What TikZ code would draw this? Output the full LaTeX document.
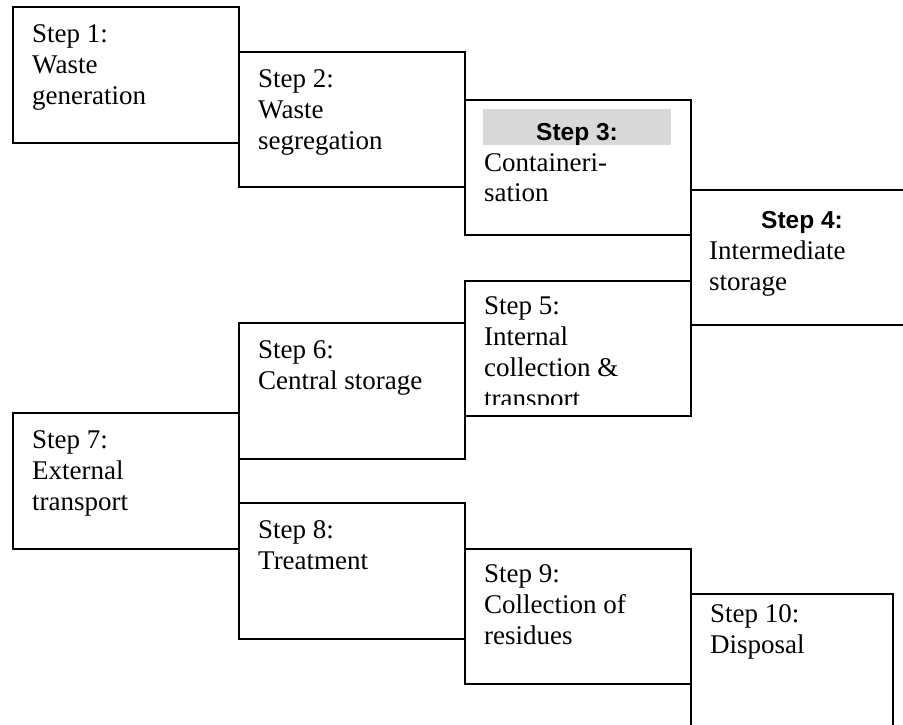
\documentclass[tikz,border=0pt]{standalone}
\usepackage{fontspec}
\setmainfont{Liberation Serif}
\setsansfont{Liberation Sans}
\definecolor{hdgray}{RGB}{217,217,217}
\begin{document}
\begin{tikzpicture}[x=1pt,y=-1pt,
  stepbox/.style={draw=black,line width=1.6pt,fill=white,rectangle,inner sep=0pt,anchor=north west},
  steptext/.style={anchor=base west,inner sep=0pt,font=\fontsize{27}{31}\selectfont},
  stephead/.style={anchor=base,inner sep=0pt,font=\fontsize{24.5}{28}\selectfont\sffamily\bfseries}]
\useasboundingbox (0,0) rectangle (903,725);
\clip (0,0) rectangle (903,725);
% boxes
\node[stepbox,minimum width=226pt,minimum height=136pt] (b1) at (12,6) {};
\node[stepbox,minimum width=226pt,minimum height=135pt] (b2) at (238,51) {};
\node[stepbox,minimum width=226pt,minimum height=135pt] (b3) at (464,99) {};
\node[stepbox,minimum width=240pt,minimum height=135pt] (b4) at (690,189) {};
\node[stepbox,minimum width=226pt,minimum height=135pt] (b5) at (464,280) {};
\node[stepbox,minimum width=226pt,minimum height=136pt] (b6) at (238,322) {};
\node[stepbox,minimum width=226pt,minimum height=136pt] (b7) at (12,412) {};
\node[stepbox,minimum width=226pt,minimum height=136pt] (b8) at (238,502) {};
\node[stepbox,minimum width=226pt,minimum height=135pt] (b9) at (464,548) {};
\node[stepbox,minimum width=202pt,minimum height=160pt] (b10) at (690,593) {};
% texts
\node[steptext] (t1) at (32,43) {\begin{tabular}[t]{@{}l@{}}Step 1:\\Waste\\generation\end{tabular}};
\node[steptext] (t2) at (258,88) {\begin{tabular}[t]{@{}l@{}}Step 2:\\Waste\\segregation\end{tabular}};
\node[fill=hdgray,inner sep=0pt,anchor=north west,minimum width=188pt,minimum height=36pt] (g3) at (483,109) {};
\node[stephead] (h3) at (577,140) {Step 3:};
\node[steptext] (t3) at (484,171) {\begin{tabular}[t]{@{}l@{}}Containeri-\\sation\end{tabular}};
\node[stephead] (h4) at (802,228) {Step 4:};
\node[steptext] (t4) at (709,259) {\begin{tabular}[t]{@{}l@{}}Intermediate\\storage\end{tabular}};
\begin{scope}
\clip (464,280) rectangle (690,404);
\node[steptext] (t5) at (484,314) {\begin{tabular}[t]{@{}l@{}}Step 5:\\Internal\\collection \&\\transport\end{tabular}};
\end{scope}
\node[steptext] (t6) at (258,358) {\begin{tabular}[t]{@{}l@{}}Step 6:\\Central storage\end{tabular}};
\node[steptext] (t7) at (32,448) {\begin{tabular}[t]{@{}l@{}}Step 7:\\External\\transport\end{tabular}};
\node[steptext] (t8) at (258,538) {\begin{tabular}[t]{@{}l@{}}Step 8:\\Treatment\end{tabular}};
\node[steptext] (t9) at (484,582) {\begin{tabular}[t]{@{}l@{}}Step 9:\\Collection of\\residues\end{tabular}};
\node[steptext] (t10) at (710,622) {\begin{tabular}[t]{@{}l@{}}Step 10:\\Disposal\end{tabular}};
\end{tikzpicture}
\end{document}
